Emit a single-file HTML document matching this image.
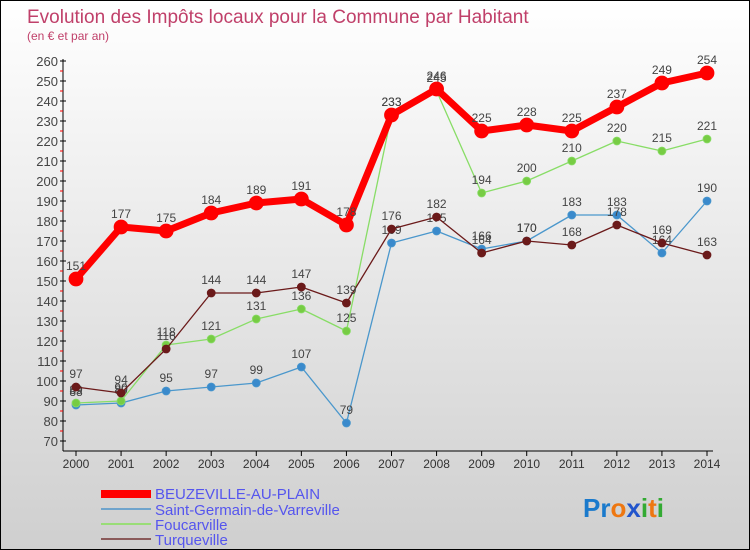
<!DOCTYPE html>
<html><head><meta charset="utf-8"><style>
body{margin:0}
#c{width:748px;height:548px;border:1px solid #000;background:linear-gradient(#fff,#cfcfcf);position:relative;font-family:"Liberation Sans",sans-serif;overflow:hidden}
svg{position:absolute;left:0;top:0}
</style></head><body>
<div id="c">
<svg id="s" width="748" height="548">
<text x="26" y="22" font-size="19" fill="#c0406a">Evolution des Impôts locaux pour la Commune par Habitant</text>
<text x="26" y="39" font-size="12" fill="#c0406a">(en € et par an)</text>
<g id="axes"></g><g id="series"></g>
<g>
<rect x="100" y="489" width="50" height="8" fill="#f00"/>
<text x="154" y="498" font-size="15" fill="#5555ee">BEUZEVILLE-AU-PLAIN</text>
<line x1="100" y1="508" x2="150" y2="508" stroke="#6fa4cc" stroke-width="2"/>
<text x="154" y="514" font-size="15" fill="#5555ee">Saint-Germain-de-Varreville</text>
<line x1="100" y1="523" x2="150" y2="523" stroke="#99dd77" stroke-width="2"/>
<text x="154" y="529" font-size="15" fill="#5555ee">Foucarville</text>
<line x1="100" y1="538" x2="150" y2="538" stroke="#8a5a5a" stroke-width="2"/>
<text x="154" y="544" font-size="15" fill="#5555ee">Turqueville</text>
</g>
<text x="582" y="516" font-size="26" font-weight="bold"><tspan fill="#1a7acc">Pr</tspan><tspan fill="#ee7711">o</tspan><tspan fill="#2255cc">x</tspan><tspan fill="#33aa33">i</tspan><tspan fill="#ee7711">t</tspan><tspan fill="#33aa33">i</tspan></text>
</svg></div>
<script>
const years=[2000,2001,2002,2003,2004,2005,2006,2007,2008,2009,2010,2011,2012,2013,2014];
const beuzeville=[151,177,175,184,189,191,178,233,246,225,228,225,237,249,254];
const saintGermain=[88,89,95,97,99,107,79,169,175,166,170,183,183,164,190];
const foucarville=[89,90,118,121,131,136,125,233,245,194,200,210,220,215,221];
const turqueville=[97,94,116,144,144,147,139,176,182,164,170,168,178,169,163];
const yTicks=[70,80,90,100,110,120,130,140,150,160,170,180,190,200,210,220,230,240,250,260];
const NS="http://www.w3.org/2000/svg";
const xs=i=>75+i*(631/(years.length-1));
const ys=v=>440-(v-70)*2;
function mk(t,a,p){const e=document.createElementNS(NS,t);for(const k in a)e.setAttribute(k,a[k]);p.appendChild(e);return e;}
const ax=document.getElementById('axes');
const yl=mk('line',{x1:62,y1:58,x2:62,y2:450,stroke:'#000'},ax);


const xl=mk('line',{x1:62,y1:450,x2:712,y2:450,stroke:'#000'},ax);


yTicks.forEach(v=>{const y=ys(v);
mk('line',{x1:59,y1:y,x2:65,y2:y,stroke:'#000'},ax);
if(v<260)mk('line',{x1:59,y1:y-10,x2:62,y2:y-10,stroke:'#f00'},ax);
const t=mk('text',{x:57,y:y+5,'text-anchor':'end','font-size':13,fill:'#444'},ax);t.textContent=v;

});
years.forEach((yr,i)=>{const x=xs(i);mk('line',{x1:x,y1:450,x2:x,y2:455,stroke:'#000'},ax);
const t=mk('text',{x:x,y:467,'text-anchor':'middle','font-size':12,fill:'#333'},ax);t.textContent=yr;

});
const sg=document.getElementById('series');
function draw(vals,name,col,w,r,fill){const g=mk('g',{},sg);


mk('polyline',{points:vals.map((v,i)=>xs(i)+','+ys(v)).join(' '),fill:'none',stroke:col,'stroke-width':w,'stroke-linejoin':'round'},g);
vals.forEach((v,i)=>{const c=mk('circle',{cx:xs(i),cy:ys(v),r:r,fill:fill,stroke:col,'stroke-width':0.8},g);


const t=mk('text',{x:xs(i),y:ys(v)-9,'text-anchor':'middle','font-size':12,fill:'#444'},g);t.textContent=v;

});}
draw(saintGermain,'saint-germain','#4a97cc',1.3,4,'#3a8acc');
draw(foucarville,'foucarville','#88dd66',1.3,4,'#77cc44');
draw(turqueville,'turqueville','#6b1a1a',1.3,4,'#6b1a1a');
draw(beuzeville,'beuzeville','#f00',7,7,'#f00');
</script>
</body></html>
